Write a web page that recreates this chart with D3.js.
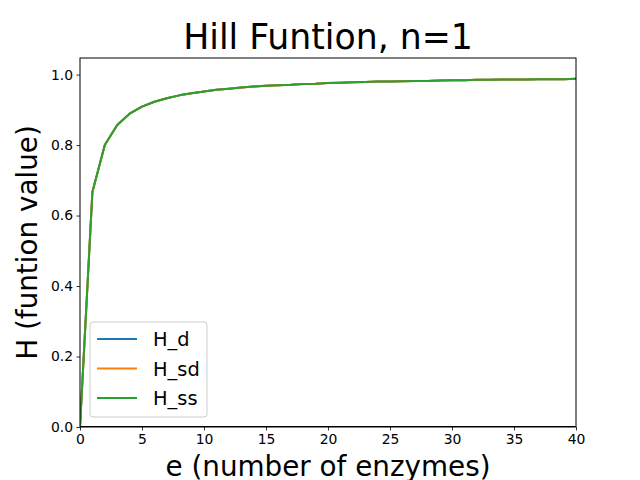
<!DOCTYPE html>
<html>
<head>
<meta charset="utf-8">
<script src="https://cdn.jsdelivr.net/npm/d3@7"></script>
<style>
  body { margin: 0; background: #fff; }
  text { font-family: "DejaVu Sans", sans-serif; }
</style>
</head>
<body>
<div class="display"></div>
<script>
// Hill function curves (all three series overlap)

const WIDTH = 640;
const HEIGHT = 480;
const LEFT = 80, RIGHT = 576, TOP = 58, BOTTOM = 427;

const enzymes = d3.range(0, 41);
const hD = [0, 0.667, 0.8, 0.857, 0.889, 0.909, 0.923, 0.933, 0.941, 0.947,
  0.952, 0.957, 0.96, 0.963, 0.966, 0.968, 0.97, 0.971, 0.973, 0.974,
  0.976, 0.977, 0.978, 0.979, 0.98, 0.98, 0.981, 0.982, 0.982, 0.983,
  0.984, 0.984, 0.985, 0.985, 0.986, 0.986, 0.986, 0.987, 0.987, 0.987, 0.988];
const hSD = hD.slice();
const hSS = hD.slice();
const zeroLine = [0, 0];
const zeroX = [0, 40];

const seriesNames = ['H_d', 'H_sd', 'H_ss'];
const seriesColors = ['#1f77b4', '#ff7f0e', '#2ca02c'];
const xTicks = [0, 5, 10, 15, 20, 25, 30, 35, 40];
const yTicks = [0, 0.2, 0.4, 0.6, 0.8, 1.0];

const svg = d3.select('.display')
  .append('svg')
  .attr('width', WIDTH)
  .attr('height', HEIGHT);

const x = d3.scaleLinear().domain([0, 40]).range([LEFT, RIGHT]);
const y = d3.scaleLinear().domain([0, 1.047]).range([BOTTOM, TOP]);

const line = d3.line()
  .x(d => x(d[0]))
  .y(d => y(d[1]));

const plot = svg.append('g');
plot.append('clipPath').attr('id', 'clip')
  .append('rect')
  .attr('x', LEFT).attr('y', TOP)
  .attr('width', RIGHT - LEFT).attr('height', BOTTOM - TOP);

const lines = plot.append('g').attr('clip-path', 'url(#clip)');
[hD, hSD, hSS].forEach((vals, i) => {
  lines.append('path')
    .datum(enzymes.map((e, j) => [e, vals[j]]))
    .attr('d', line)
    .attr('fill', 'none')
    .attr('stroke', seriesColors[i])
    .attr('stroke-width', 2)
    .attr('stroke-linejoin', 'round');
});
lines.append('path')
  .datum(zeroX.map((e, j) => [e, zeroLine[j]]))
  .attr('d', line)
  .attr('stroke', '#000')
  .attr('stroke-width', 2);

// axes
const xAxis = svg.append('g')
  .attr('transform', `translate(0,${BOTTOM})`)
  .call(d3.axisBottom(x).tickValues(xTicks).tickSize(3.5).tickPadding(3.5).tickFormat(d3.format('d')));
const yAxis = svg.append('g')
  .attr('transform', `translate(${LEFT},0)`)
  .call(d3.axisLeft(y).tickValues(yTicks).tickSize(3.5).tickPadding(3.5).tickFormat(d3.format('.1f')));
[xAxis, yAxis].forEach(a => {
  a.select('.domain').remove();
  a.selectAll('line').attr('stroke', '#000').attr('stroke-width', 0.8);
  a.selectAll('text').attr('font-size', 13.9).attr('fill', '#000')
    .attr('font-family', '"DejaVu Sans", sans-serif');
});

svg.append('rect')
  .attr('x', LEFT).attr('y', TOP)
  .attr('width', RIGHT - LEFT).attr('height', BOTTOM - TOP)
  .attr('fill', 'none')
  .attr('stroke', '#000')
  .attr('stroke-width', 1);

// titles
svg.append('text')
  .attr('x', (LEFT + RIGHT) / 2).attr('y', 49)
  .attr('text-anchor', 'middle')
  .attr('font-size', 34.7)
  .text('Hill Funtion, n=1');

svg.append('text')
  .attr('x', (LEFT + RIGHT) / 2).attr('y', 476)
  .attr('text-anchor', 'middle')
  .attr('font-size', 27.8)
  .text('e (number of enzymes)');

svg.append('text')
  .attr('transform', `translate(37,${(TOP + BOTTOM) / 2}) rotate(-90)`)
  .attr('text-anchor', 'middle')
  .attr('font-size', 27.8)
  .text('H (funtion value)');

// legend
const legend = svg.append('g').attr('transform', 'translate(90,322)');
legend.append('rect')
  .attr('width', 117).attr('height', 95)
  .attr('rx', 3)
  .attr('fill', '#fff').attr('fill-opacity', 0.8)
  .attr('stroke', '#ccc');
seriesNames.forEach((name, i) => {
  const row = legend.append('g').attr('transform', `translate(0,${17 + i * 29.5})`);
  row.append('line')
    .attr('x1', 7).attr('x2', 47)
    .attr('stroke', seriesColors[i]).attr('stroke-width', 2);
  row.append('text')
    .attr('x', 63).attr('y', 7)
    .attr('font-size', 19.4)
    .text(name);
});
</script>
</body>
</html>
